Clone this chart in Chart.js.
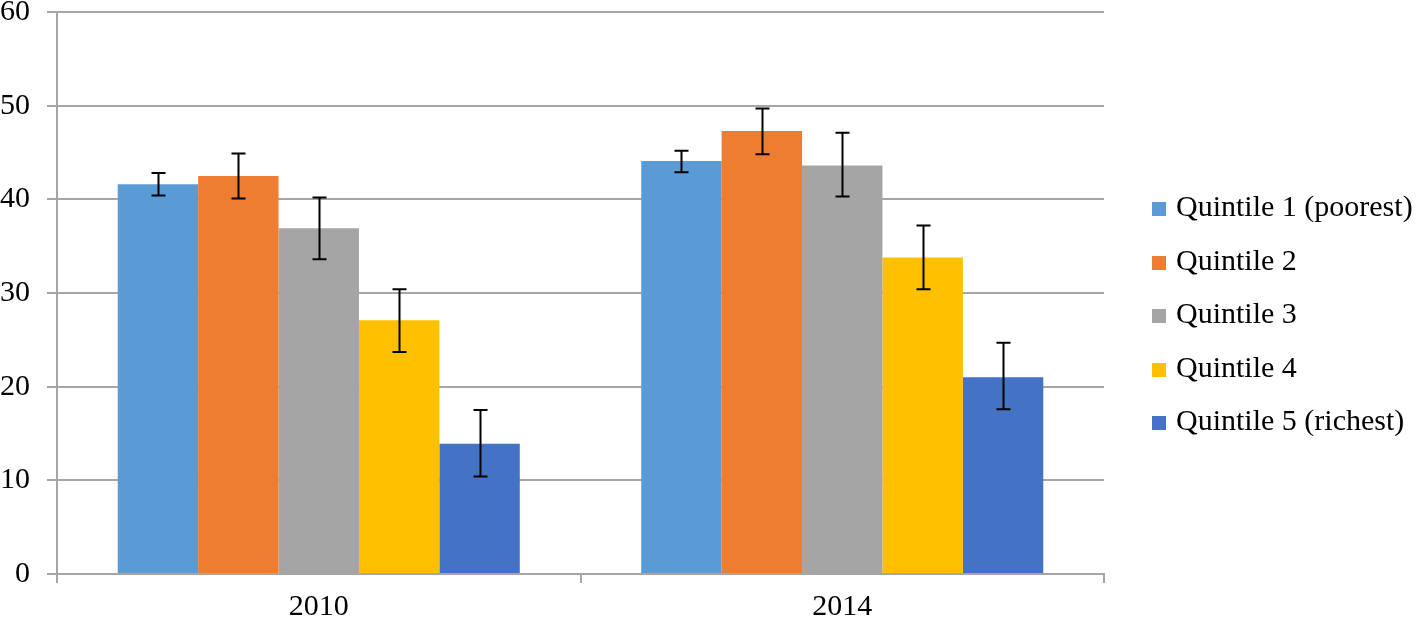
<!DOCTYPE html>
<html>
<head>
<meta charset="utf-8">
<script src="https://cdn.jsdelivr.net/npm/chart.js@4/dist/chart.umd.min.js"></script>
<style>
  html, body { margin: 0; padding: 0; background: #fff; }
  #wrap { position: relative; width: 1424px; height: 620px; }
  .legend { position: absolute; left: 1152px; top: 179px; font-family: "Liberation Serif", "Times New Roman", serif; font-size: 30px; line-height: 53.5px; color: #000; }
  .legend .item { white-space: nowrap; }
  .legend .box { display: inline-block; width: 14px; height: 14px; margin-right: 10px; }
</style>
</head>
<body>
<div id="wrap"><canvas id="chart"></canvas><div class="legend" id="legend"></div></div>
<script>
// -------------------- DATA -------------------
let Years = ['2010', '2014'];
let Quintiles = ['Quintile 1 (poorest)', 'Quintile 2', 'Quintile 3', 'Quintile 4', 'Quintile 5 (richest)'];
let Colors = ['#5B9BD5', '#ED7D31', '#A5A5A5', '#FFC000', '#4472C4'];

// value per quintile, [2010, 2014]
let Q1 = [41.6, 44.1];
let Q2 = [42.5, 47.3];
let Q3 = [36.9, 43.6];
let Q4 = [27.1, 33.8];
let Q5 = [13.9, 21.0];

// error bar low / high, [2010, 2014]
let Q1Low = [40.4, 42.9], Q1High = [42.8, 45.2];
let Q2Low = [40.1, 44.8], Q2High = [44.9, 49.7];
let Q3Low = [33.6, 40.3], Q3High = [40.2, 47.1];
let Q4Low = [23.7, 30.4], Q4High = [30.4, 37.2];
let Q5Low = [10.4, 17.6], Q5High = [17.5, 24.7];

let Values = [Q1, Q2, Q3, Q4, Q5];
let Lows = [Q1Low, Q2Low, Q3Low, Q4Low, Q5Low];
let Highs = [Q1High, Q2High, Q3High, Q4High, Q5High];

// -------------------- PLUGINS -------------------
const ErrorBars = {
  id: 'errorBars',
  afterDatasetsDraw(chart) {
    let ctx = chart.ctx;
    let y = chart.scales.y;
    ctx.save();
    ctx.strokeStyle = '#000';
    ctx.lineWidth = 2;
    chart.data.datasets.forEach((ds, di) => {
      let meta = chart.getDatasetMeta(di);
      meta.data.forEach((bar, i) => {
        let top = y.getPixelForValue(Highs[di][i]);
        let bot = y.getPixelForValue(Lows[di][i]);
        let x = Math.round(bar.x) + 0.5;
        ctx.beginPath();
        ctx.moveTo(x, top); ctx.lineTo(x, bot);
        ctx.moveTo(x - 7, top); ctx.lineTo(x + 7, top);
        ctx.moveTo(x - 7, bot); ctx.lineTo(x + 7, bot);
        ctx.stroke();
      });
    });
    ctx.restore();
  }
};

// -------------------- CHART -------------------
let datasets = Quintiles.map((name, i) => ({
  label: name,
  data: Values[i],
  backgroundColor: Colors[i],
  borderWidth: 0,
  barPercentage: 1,
  categoryPercentage: 0.768
}));

Chart.defaults.font.family = '"Liberation Serif", "Times New Roman", serif';
Chart.defaults.color = '#000';

new Chart(document.getElementById('chart'), {
  type: 'bar',
  data: { labels: Years, datasets: datasets },
  plugins: [ErrorBars],
  options: {
    responsive: true,
    maintainAspectRatio: false,
    animation: false,
    layout: { padding: { left: 0, right: 320, top: 12, bottom: 0 } },
    plugins: {
      tooltip: { enabled: false },
      legend: { display: false }
    },
    scales: {
      x: {
        grid: { offset: true, drawOnChartArea: false, drawTicks: true, tickLength: 9, color: '#a6a6a6', lineWidth: 2 },
        border: { color: '#a6a6a6', width: 2 },
        ticks: { font: { size: 30, lineHeight: 1 }, padding: 9 },
        afterFit: s => { s.height = 46; s.paddingLeft = 0; s.paddingRight = 0; }
      },
      y: {
        min: 0,
        max: 60,
        ticks: { stepSize: 10, font: { size: 30 }, padding: 17 },
        grid: { color: '#a6a6a6', lineWidth: 2, tickLength: 10 },
        border: { color: '#a6a6a6', width: 2 },
        afterFit: s => { s.width = 57; s.paddingTop = 0; s.paddingBottom = 0; }
      }
    }
  }
});

// -------------------- LEGEND -------------------
let Legend = document.getElementById('legend');
Quintiles.forEach((name, i) => {
  let item = document.createElement('div');
  item.className = 'item';
  let box = document.createElement('span');
  box.className = 'box';
  box.style.background = Colors[i];
  item.appendChild(box);
  item.appendChild(document.createTextNode(name));
  Legend.appendChild(item);
});
</script>
</body>
</html>
